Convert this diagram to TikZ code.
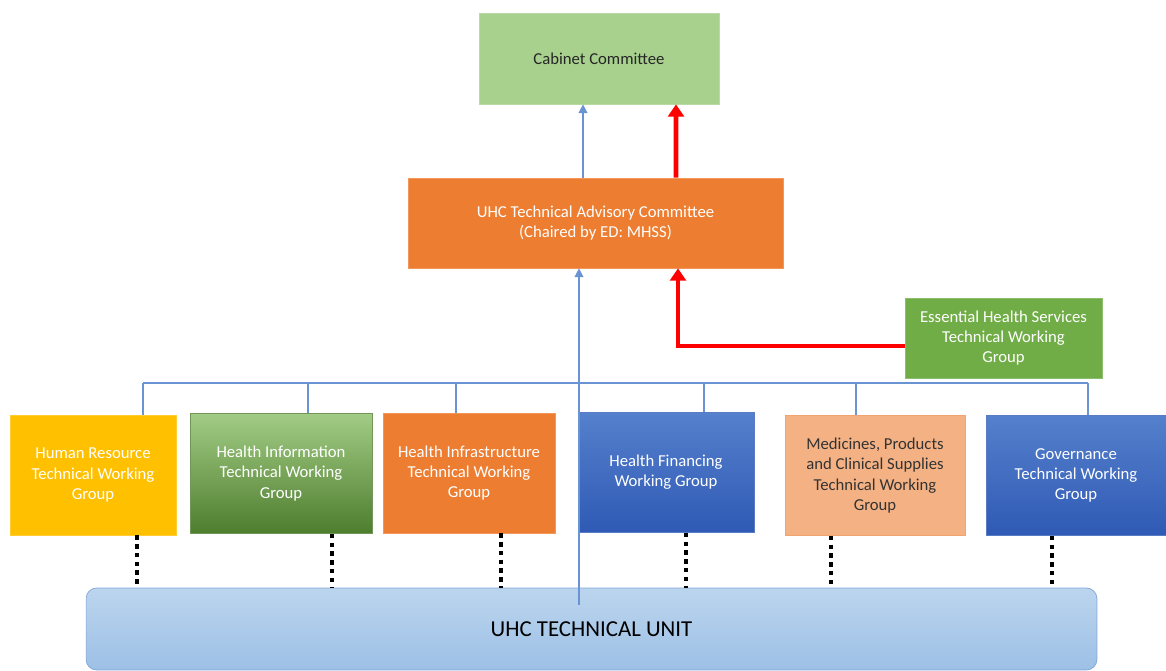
\documentclass[tikz,border=0pt]{standalone}
\usepackage{fontspec}
\setmainfont{Carlito}
\usepackage{xcolor}
\definecolor{cabFill}   {HTML}{A9D18E}
\definecolor{tacFill}   {HTML}{ED7D31}
\definecolor{ehsFill}   {HTML}{70AD47}
\definecolor{hrFill}    {HTML}{FFC000}
\definecolor{hiTop}     {HTML}{A2CC85}
\definecolor{hiBot}     {HTML}{4E7D2E}
\definecolor{hfTop}     {HTML}{5580CC}
\definecolor{hfBot}     {HTML}{2F5AB5}
\definecolor{medFill}   {HTML}{F4B183}
\definecolor{unitTop}   {HTML}{BCD5EE}
\definecolor{unitBot}   {HTML}{9DC0E6}
\definecolor{unitLine}  {HTML}{7FA6D6}
\definecolor{busBlue}   {HTML}{6A93D4}
\usetikzlibrary{arrows.meta, positioning, calc}

\begin{document}
\begin{tikzpicture}[x=0.02cm, y=-0.02cm,
    every node/.style={font=\fontsize{9.5}{11.5}\selectfont, align=center},
    box/.style={draw=#1!80!white, fill=#1, text=white, inner sep=2pt,
                minimum height=2.4cm},
    twg/.style={box=#1},
    busline/.style={draw=busBlue, line width=0.8pt},
    blink/.style={busline, -{Triangle[length=5pt, width=5pt]}},
    rlink/.style={draw=red, line width=2.8pt, -{Triangle[length=7pt, width=9pt]}},
    dotlink/.style={line width=2pt, dash pattern=on 2.5pt off 2.5pt}
]
\useasboundingbox (0,0) rectangle (1166,671);
% Top
\node[box=cabFill, text=black!85, minimum width=4.8cm, minimum height=1.82cm]
    (cab) at (599,58.5) {Cabinet Committee};
\node[box=tacFill, minimum width=7.5cm, minimum height=1.8cm]
    (tac) at (595.5,223) {UHC Technical Advisory Committee\\(Chaired by ED: MHSS)};
\node[box=ehsFill, minimum width=3.94cm, minimum height=1.6cm]
    (ehs) at (1003.5,338) {Essential Health Services\\Technical Working\\Group};
% Working groups
\node[twg=hrFill, minimum width=3.32cm] (hr) at (93,475)
    {Human Resource\\Technical Working\\Group};
\node[twg=hiBot, top color=hiTop, bottom color=hiBot, minimum width=3.64cm]
    (hi) at (281,473.5) {Health Information\\Technical Working\\Group};
\node[twg=tacFill, minimum width=3.44cm] (hin) at (469,473)
    {Health Infrastructure\\Technical Working\\Group};
\node[twg=hfBot, top color=hfTop, bottom color=hfBot, minimum width=3.52cm]
    (hf) at (666,472.5) {Health Financing\\Working Group};
\node[twg=medFill, draw=tacFill!70, text=black!80, minimum width=3.6cm]
    (med) at (875,475.5) {Medicines, Products\\and Clinical Supplies\\Technical Working\\Group};
\node[twg=hfBot, top color=hfTop, bottom color=hfBot, minimum width=3.6cm]
    (gov) at (1076,475.5) {Governance\\Technical Working\\Group};
% Unit
\node[draw=unitLine, top color=unitTop, bottom color=unitBot, rounded corners=6pt,
      minimum width=20.22cm, minimum height=1.64cm,
      font=\fontsize{13}{15}\selectfont] (unit) at (591.5,629) {UHC TECHNICAL UNIT};
% Bus over the working groups
\coordinate (busL) at (143,383);
\coordinate (busR) at (1088,383);
\draw[busline] (busL) -- (busR);
\foreach \n/\dx in {hr/50, hi/27, hin/-13, hf/38, med/-19, gov/12} {
  \path (\n.north) ++(\dx,0) coordinate (d\n);
  \draw[busline] (d\n) -- (d\n |- busL);
}
% Dotted links to the unit
\foreach \n/\dx in {hr/44, hi/51, hin/32, hf/20, med/-44, gov/-24} {
  \path (\n.south) ++(\dx,0) coordinate (t\n);
  \draw[dotlink] (t\n) -- (t\n |- unit.north);
}
% Arrows
\draw[blink] ($(unit.north)+(-12.5,17)$) -- ($(tac.south)+(-16.5,0)$);
\draw[blink] ($(tac.north)+(-12.5,0)$) -- ($(cab.south)+(-16,0)$);
\draw[rlink] ($(tac.north)+(80.5,0)$) -- ($(cab.south)+(77,0)$);
\draw[rlink] ($(ehs.west)+(0,8)$) -| ($(tac.south)+(82.5,0)$);
\end{tikzpicture}
\end{document}
